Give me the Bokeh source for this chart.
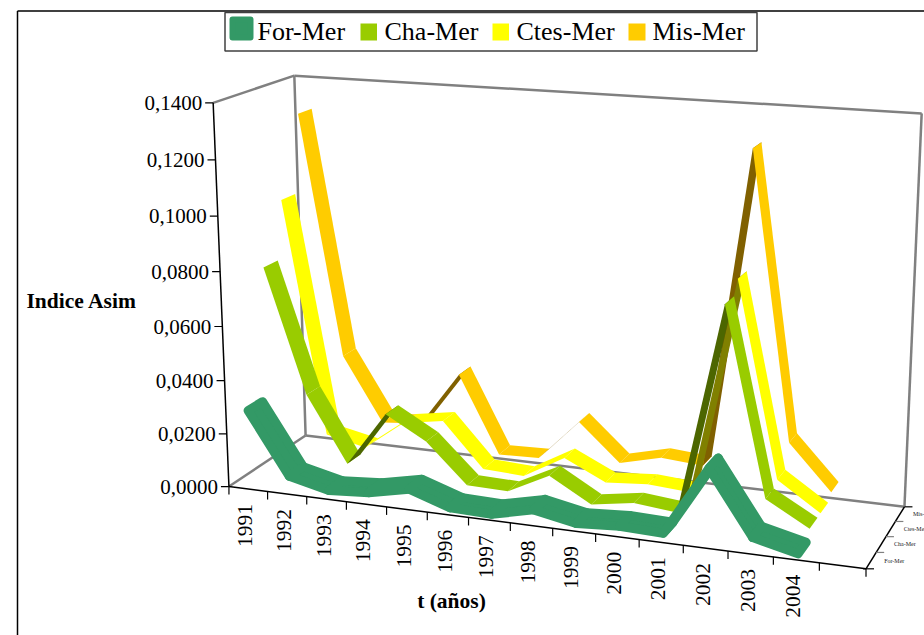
import numpy as np
from bokeh.core.properties import value
from bokeh.embed import file_html
from bokeh.models import ColumnDataSource, Range1d
from bokeh.plotting import figure
from bokeh.resources import INLINE

years = ["1991", "1992", "1993", "1994", "1995", "1996", "1997",
         "1998", "1999", "2000", "2001", "2002", "2003", "2004"]
series_names = ["For-Mer", "Cha-Mer", "Ctes-Mer", "Mis-Mer"]
for_mer = [0.0290, 0.0060, 0.0025, 0.0036, 0.0068, 0.0018, 0.0014,
           0.0050, 0.0020, 0.0030, 0.0025, 0.0275, 0.0050, 0.0013]
cha_mer = [0.0780, 0.0320, 0.0075, 0.0280, 0.0195, 0.0050, 0.0046,
           0.0123, 0.0035, 0.0060, 0.0045, 0.0800, 0.0133, 0.0046]
ctes_mer = [0.0995, 0.0120, 0.0088, 0.0200, 0.0225, 0.0060, 0.0052,
            0.0138, 0.0065, 0.0077, 0.0066, 0.0850, 0.0150, 0.0047]
mis_mer = [0.1285, 0.0380, 0.0137, 0.0150, 0.0355, 0.0065, 0.0070,
           0.0225, 0.0087, 0.0125, 0.0113, 0.1270, 0.0235, 0.0071]
value_ticks = [0.0, 0.02, 0.04, 0.06, 0.08, 0.10, 0.12, 0.14]
value_tick_labels = ["0,0000", "0,0200", "0,0400", "0,0600",
                     "0,0800", "0,1000", "0,1200", "0,1400"]

ribbon_colors = ["#339966", "#99CC00", "#FFFF00", "#FFCC00"]
underside_colors = ["#339966", "#4C6600", "#808000", "#806000"]
SERIF = value("Liberation Serif")
N_CATEGORIES = 15
N_SERIES = 4
V_MAX = 0.14

# Pinhole camera for the box: (category, value, series depth) -> page position.
camera_anchors = [
    ((0, 0, 0), (229, 486)), ((15, 0, 0), (865.7, 568)),
    ((0, 0, 4), (305, 435)), ((15, 0, 4), (904, 506)),
    ((0, 0.14, 0), (213, 102)), ((0, 0.14, 4), (294, 75)),
    ((15, 0.14, 4), (921, 113)), ((0, 0.06, 0), (221, 327)),
    ((4, 0, 0), (386, 506)), ((8, 0, 0), (552, 527.5)),
    ((15, 0, 2), (885.5, 537)),
]


def fit_camera(anchors):
    rows = []
    for (u, v, w), (x, y) in anchors:
        q = [u, v / V_MAX, w, 1.0]
        rows.append(q + [0, 0, 0, 0] + [-x * c for c in q])
        rows.append([0, 0, 0, 0] + q + [-y * c for c in q])
    return np.linalg.svd(np.array(rows, dtype=float))[2][-1].reshape(3, 4)


CAM = fit_camera(camera_anchors)


def project(u, v, w):
    h = CAM @ np.array([u, v / V_MAX, w, 1.0])
    return h[0] / h[2], h[1] / h[2]


def ribbon_quads(values, k, z0=0.14, z1=0.86):
    quads = []
    for i in range(len(values) - 1):
        a = project(i + 0.5, values[i], k + z0)
        b = project(i + 1.5, values[i + 1], k + z0)
        c = project(i + 1.5, values[i + 1], k + z1)
        d = project(i + 0.5, values[i], k + z1)
        # Signed area on the page decides which face of the ribbon is visible.
        area = 0.5 * sum(p[0] * q[1] - q[0] * p[1]
                         for p, q in zip((a, b, c, d), (b, c, d, a)))
        quads.append(([a[0], b[0], c[0], d[0]], [a[1], b[1], c[1], d[1]], area > 0))
    return quads


p = figure(width=924, height=635, output_backend="svg", toolbar_location=None,
           x_range=Range1d(0, 924), y_range=Range1d(635, 0),
           x_axis_type=None, y_axis_type=None, min_border=0,
           outline_line_color=None)
p.grid.visible = False
p.background_fill_color = "white"


def seg(a, b, color, width):
    p.line([a[0], b[0]], [a[1], b[1]], line_color=color, line_width=width)


# Page frame
p.line([17, 17], [635, 10.5], line_color="black", line_width=1.5)
p.line([17, 924], [10.5, 10.5], line_color="black", line_width=1.5)

# Floor and back walls
GRAY = "#808080"
seg(project(0, 0, 0), project(0, 0, 4), GRAY, 2.5)
seg(project(0, 0, 4), project(15, 0, 4), GRAY, 2.5)
seg(project(0, 0, 4), project(0, V_MAX, 4), GRAY, 2.5)
seg(project(0, V_MAX, 0), project(0, V_MAX, 4), GRAY, 2.5)
seg(project(0, V_MAX, 4), project(15, V_MAX, 4), GRAY, 2.5)
seg(project(15, 0, 4), project(15, V_MAX, 4), GRAY, 2.5)

# Ribbons, back series first
for k, vals in reversed(list(enumerate([for_mer, cha_mer, ctes_mer, mis_mer]))):
    quads = ribbon_quads(vals, k)
    src = ColumnDataSource(dict(
        xs=[q[0] for q in quads], ys=[q[1] for q in quads],
        c=[underside_colors[k] if q[2] else ribbon_colors[k] for q in quads]))
    if k == 0:
        p.patches("xs", "ys", source=src, fill_color="c", line_color="c",
                  line_width=9, line_join="round")
    else:
        p.patches("xs", "ys", source=src, fill_color="c", line_color=None)

# Value axis on the front left edge
seg(project(0, 0, 0), project(0, V_MAX, 0), "black", 1.5)
tx, ty = [], []
for v in value_ticks:
    x, y = project(0, v, 0)
    seg((x - 8, y), (x, y), "black", 1.2)
    tx.append(x - 11)
    ty.append(y)
p.text(tx, ty, text=value_tick_labels, text_font=SERIF, text_font_size="21px",
       text_align="right", text_baseline="middle", text_color="black")

# Category axis along the front floor edge
seg(project(0, 0, 0), project(15, 0, 0), "black", 1.5)
for i in range(N_CATEGORIES + 1):
    x, y = project(i, 0, 0)
    seg((x, y), (x, y + 8), "black", 1.2)
cx, cy = [], []
for i in range(len(years)):
    x, y = project(i + 0.5, 0, 0)
    cx.append(x - 3)
    cy.append(y + 15)
p.text(cx, cy, text=years, angle=np.pi / 2, text_font=SERIF, text_font_size="21.5px",
       text_align="right", text_baseline="middle", text_color="black")

# Depth axis with tiny series names
seg(project(15, 0, 0), project(15, 0, 4), "black", 1.5)
x, y = project(15, 0, 0)
seg((x - 3, y), (x + 8, y), "black", 1.2)
for w in range(1, N_SERIES + 1):
    x, y = project(15, 0, w)
    seg((x, y), (x + 8, y), GRAY if w < 4 else "black", 1.2)
dx, dy = [], []
for k in range(N_SERIES):
    x, y = project(15, 0, k + 0.5)
    dx.append(x + 13)
    dy.append(y)
p.text(dx, dy, text=series_names, text_font=SERIF, text_font_size="6px",
       text_align="left", text_baseline="middle", text_color="#222222")

# Axis titles
p.text([26], [300], text=["Indice Asim"], text_font=SERIF, text_font_style="bold",
       text_font_size="21.5px", text_align="left", text_baseline="middle")
p.text([451], [600], text=["t (años)"], text_font=SERIF, text_font_style="bold",
       text_font_size="21.5px", text_align="center", text_baseline="middle")

# Legend
p.quad(left=[224.5], right=[756.5], top=[12], bottom=[50.5], fill_color="white",
       line_color="#404040", line_width=1.5)
swatch_l = [229, 360, 492, 628]
swatch_r = [253, 376.5, 508.5, 645]
swatch_t = [16, 23, 23, 23]
swatch_b = [40, 40, 40, 40]
p.quad(left=swatch_l[1:], right=swatch_r[1:], top=swatch_t[1:], bottom=swatch_b[1:],
       fill_color=ribbon_colors[1:], line_color=None)
# The first swatch has rounded corners, from a thick round-joined outline.
p.patch([swatch_l[0] + 3, swatch_r[0] - 3, swatch_r[0] - 3, swatch_l[0] + 3],
        [swatch_t[0] + 3, swatch_t[0] + 3, swatch_b[0] - 3, swatch_b[0] - 3],
        fill_color=ribbon_colors[0], line_color=ribbon_colors[0], line_width=6,
        line_join="round")
p.text([257, 384, 516, 652], [31, 31, 31, 31], text=series_names, text_font=SERIF,
       text_font_size="26px", text_align="left", text_baseline="middle", text_color="black")

open("out.html", "w").write(file_html(p, INLINE))
